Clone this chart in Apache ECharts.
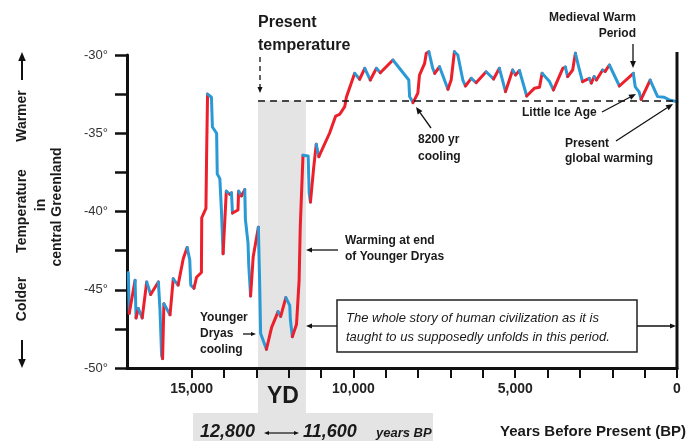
<!DOCTYPE html>
<html><head><meta charset="utf-8">
<script src="https://cdn.jsdelivr.net/npm/echarts@6/dist/echarts.min.js"></script>
<style>html,body{margin:0;padding:0;background:#fff}#c{width:692px;height:441px}</style>
</head><body><div id="c"></div>
<script>
// Years before present (BP) and central-Greenland temperature (°C)
const years = [16960,16930,16750,16720,16650,16530,16390,16270,16030,15980,15930,15900,15860,15670,15570,15420,15260,15140,15060,15030,14930,14850,14700,14690,14560,14540,14510,14390,14360,14230,14210,14130,14080,14030,13930,13820,13770,13740,13570,13550,13460,13360,13340,13260,13235,13180,13100,12940,12900,12870,12690,12530,12330,12250,12090,11970,11950,11890,11760,11680,11645,11560,11400,11370,11330,11230,11150,11070,10740,10550,10430,10270,10220,9963,9810,9650,9480,9290,9170,8780,8290,8265,8160,8010,7960,7800,7750,7670,7550,7490,7340,7080,6980,6880,6775,6620,6540,6360,6210,5900,5670,5490,5300,5080,4990,4870,4645,4410,4250,4170,3940,3820,3530,3450,3380,3225,3140,3040,2920,2710,2650,2560,2490,2300,2220,2090,1780,1350,1290,1170,1110,830,600,395,240,0];
const temps = [-43.9,-46.5,-44.4,-46.8,-46.2,-46.8,-44.5,-45.3,-44.5,-46.3,-49.2,-49.4,-45.9,-46.6,-44.3,-44.7,-43.0,-42.3,-43.1,-44.7,-44.9,-44.2,-43.9,-40.4,-39.8,-36.5,-32.5,-32.7,-34.6,-35.0,-37.6,-37.9,-40.0,-42.7,-38.7,-38.9,-38.8,-40.1,-39.9,-38.7,-39.0,-38.6,-40.5,-42.0,-43.5,-45.4,-42.9,-41.0,-44.5,-47.8,-48.8,-47.4,-46.4,-46.7,-45.5,-46.0,-46.9,-48.0,-47.2,-44.4,-41.0,-36.4,-36.45,-38.8,-39.4,-37.2,-35.7,-36.5,-35.0,-33.9,-33.8,-33.3,-32.7,-31.17,-31.55,-30.85,-31.6,-30.85,-31.13,-30.32,-31.6,-32.66,-33.04,-32.44,-31.28,-30.53,-29.89,-29.79,-30.85,-31.17,-30.75,-32.19,-31.6,-29.79,-30.0,-31.6,-31.98,-31.49,-31.77,-31.07,-31.53,-30.85,-32.34,-30.96,-31.28,-30.99,-32.62,-32.13,-32.06,-31.17,-31.7,-32.23,-30.85,-30.77,-31.38,-30.96,-29.89,-30.75,-31.7,-31.49,-31.79,-31.38,-31.6,-30.96,-31.05,-30.64,-31.98,-31.17,-32.04,-32.36,-32.84,-31.6,-32.66,-32.7,-32.87,-32.98];
const xTickValues = [15000,14000,13000,12000,11000,10000,9000,8000,7000,6000,5000,4000,3000,2000,1000,0];
const xLabelValues = [15000,10000,5000,0];
const presentTemp = -32.9;
const ydStart = 12950, ydEnd = 11470;

const RED = '#ec1f2b', BLUE = '#2a9ad6';
const F = '"Liberation Sans", Arial, Helvetica, sans-serif';

// split into warming (red) / cooling (blue) runs
const series = [];
let start = 0;
for (let i = 1; i < years.length; i++) {
  const dirPrev = temps[i] > temps[i - 1];
  const dirNext = i < years.length - 1 ? temps[i + 1] > temps[i] : null;
  if (dirNext === null || dirNext !== dirPrev) {
    const pts = [];
    for (let j = start; j <= i; j++) pts.push([years[j], temps[j]]);
    series.push({
      type: 'line', data: pts, showSymbol: false, clip: false, silent: true, z: 4,
      lineStyle: { color: dirPrev ? RED : BLUE, width: 3, cap: 'round', join: 'round' }
    });
    start = i;
  }
}
series[0].markLine = {
  silent: true, symbol: 'none', label: { show: false }, animation: false,
  lineStyle: { color: '#111', width: 1.5, type: [7, 5] },
  data: [[{ coord: [ydStart, presentTemp] }, { coord: [0, presentTemp] }]]
};

const chart = echarts.init(document.getElementById('c'), null, { renderer: 'canvas' });
chart.setOption({
  animation: false,
  grid: { left: 127, right: 15, top: 55, bottom: 73 },
  xAxis: {
    type: 'value', inverse: true, min: 0, max: 17000,
    axisLine: { show: true, onZero: false, lineStyle: { color: '#111', width: 3 } },
    axisTick: { show: true, customValues: xTickValues, length: 10, lineStyle: { color: '#111', width: 2 } },
    axisLabel: { customValues: xLabelValues, margin: 14, color: '#222', fontSize: 14, fontWeight: 'bold', fontFamily: F,
      formatter: v => v === 0 ? '0' : v.toLocaleString('en-US') },
    splitLine: { show: false }
  },
  yAxis: {
    type: 'value', min: -50, max: -30, interval: 2.5,
    axisLine: { show: true, onZero: false, lineStyle: { color: '#111', width: 3 } },
    axisTick: { show: true, length: 12, lineStyle: { color: '#111', width: 2.5 } },
    axisLabel: { margin: 19, color: '#333', fontSize: 13, fontFamily: F,
      formatter: v => (v % 5 === 0 ? v + '°' : '') },
    splitLine: { show: false }
  },
  series: series
});

// annotations
function arrow(x1, y1, x2, y2, head, w, dash) {
  head = head || 7; w = w || 1.3;
  const a = Math.atan2(y2 - y1, x2 - x1);
  const hx = x2 - head * Math.cos(a), hy = y2 - head * Math.sin(a);
  const px = -Math.sin(a), py = Math.cos(a), h = head * 0.42;
  return [
    { type: 'line', shape: { x1, y1, x2: hx, y2: hy }, style: { stroke: '#111', lineWidth: w, lineDash: dash || null }, z: 10 },
    { type: 'polygon', shape: { points: [[x2, y2], [hx + px * h, hy + py * h], [hx - px * h, hy - py * h]] }, style: { fill: '#111' }, z: 10 }
  ];
}
function txt(x, y, text, font, align, extra) {
  return Object.assign({ type: 'text', x, y, z: 10,
    style: { text, font, fill: '#1a1a1a', textAlign: align || 'left', textVerticalAlign: 'middle' } }, extra || {});
}
const B12 = 'bold 12px ' + F, B14 = 'bold 14px ' + F;
const p1 = chart.convertToPixel({ gridIndex: 0 }, [ydStart, presentTemp]);
const p2 = chart.convertToPixel({ gridIndex: 0 }, [ydEnd, -50]);
const pR = chart.convertToPixel({ gridIndex: 0 }, [0, -50]);
const els = [
  { type: 'rect', shape: { x: p1[0], y: p1[1], width: p2[0] - p1[0], height: 413 - p1[1] }, style: { fill: '#e4e4e4' }, z: -1 },
  { type: 'rect', shape: { x: 193, y: 413, width: 240, height: 28 }, style: { fill: '#e4e4e4' }, z: -1 },
  { type: 'line', shape: { x1: pR[0], y1: 52, x2: pR[0], y2: pR[1] + 1.5 }, style: { stroke: '#111', lineWidth: 3 }, z: 10 },
  txt(258, 23, 'Present', 'bold 16px ' + F),
  txt(258, 46, 'temperature', 'bold 16px ' + F),
  ...arrow(260, 57, 260, 93, 6, 1.3, [5, 4]),
  txt(636, 18, 'Medieval Warm', B12, 'right'),
  txt(636, 34, 'Period', B12, 'right'),
  ...arrow(633, 44, 633, 68, 7),
  txt(418, 140, '8200 yr', B12),
  txt(418, 157, 'cooling', B12),
  ...arrow(431, 128, 416, 107, 7),
  txt(522, 113, 'Little Ice Age', B12),
  ...arrow(602, 112, 636, 94, 7),
  txt(565, 144, 'Present', B12),
  txt(565, 159, 'global warming', B12),
  ...arrow(616, 141, 673, 104, 7),
  txt(345, 241, 'Warming at end', B12),
  txt(345, 257, 'of Younger Dryas', B12),
  ...arrow(338, 250, 306, 250, 6),
  txt(200, 318, 'Younger', B12),
  txt(200, 334, 'Dryas', B12),
  txt(200, 350, 'cooling', B12),
  ...arrow(243, 334, 256, 334, 5),
  { type: 'rect', shape: { x: 337, y: 300, width: 300, height: 52 }, style: { fill: '#fff', stroke: '#222', lineWidth: 1.5 }, z: 9 },
  txt(346, 318, 'The whole story of human civilization as it is', 'italic 13px ' + F),
  txt(346, 337, 'taught to us supposedly unfolds in this period.', 'italic 13px ' + F),
  ...arrow(337, 326, 306, 326, 6),
  ...arrow(637, 326, 676, 326, 6),
  txt(283, 397, 'YD', 'bold 23px ' + F, 'center'),
  txt(200, 432, '12,800', 'italic bold 18px ' + F),
  ...arrow(280, 433, 264, 433, 5, 1.2),
  ...arrow(280, 433, 299, 433, 5, 1.2),
  txt(303, 432, '11,600', 'italic bold 18px ' + F),
  txt(376, 433, 'years BP', 'italic bold 13px ' + F),
  txt(686, 432, 'Years Before Present (BP)', 'bold 15px ' + F, 'right'),
  txt(22, 116, 'Warmer', B14, 'center', { rotation: Math.PI / 2 }),
  txt(22, 211, 'Temperature', B14, 'center', { rotation: Math.PI / 2 }),
  txt(22, 299, 'Colder', B14, 'center', { rotation: Math.PI / 2 }),
  txt(41, 205, 'in', B14, 'center', { rotation: Math.PI / 2 }),
  txt(57, 207, 'central Greenland', B14, 'center', { rotation: Math.PI / 2 }),
  ...arrow(22, 80, 22, 52, 9, 2),
  ...arrow(22, 340, 22, 368, 9, 2)
];
chart.setOption({ graphic: { elements: els } });
</script></body></html>
